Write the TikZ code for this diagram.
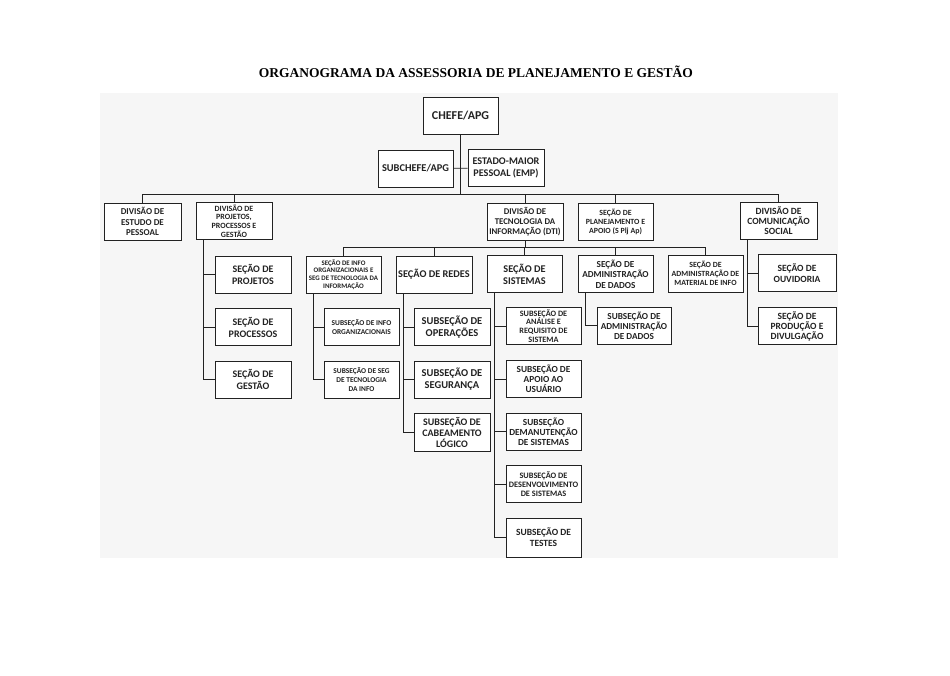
\documentclass[tikz,border=0pt]{standalone}
\usepackage{fontspec}
\setmainfont{Carlito}
\newfontfamily\titlefont{Liberation Serif}
\usetikzlibrary{positioning,calc}
\definecolor{ink}{HTML}{222222}
\definecolor{scan}{HTML}{F6F6F6}
\tikzset{unit/.style 2 args={draw=ink,line width=1pt,fill=white,text=ink,align=center,
    minimum width=76pt,minimum height=37pt,inner sep=.5pt,font=\bfseries\fontsize{#1}{#2}\selectfont},
  link/.style={draw=ink,line width=.9pt}}

\begin{document}
\begin{tikzpicture}[x=1pt,y=-1pt]
\useasboundingbox (0,0) rectangle (950,675);
\fill[scan] (100,93) rectangle (838,558);
\node[font=\titlefont\bfseries\fontsize{13.5}{16}\selectfont] (title) at (476,72) {ORGANOGRAMA DA ASSESSORIA DE PLANEJAMENTO E GESTÃO};

\node[unit={12}{14},minimum width=75pt] (chefe) at (460.5,115.5) {CHEFE/APG};
\node[unit={10.4}{12.5},minimum width=75pt] (subchefe) at (415.5,168.5) {SUBCHEFE/APG};
\node[unit={10.2}{12.5}] (emp) at (506,168) {ESTADO-MAIOR\\PESSOAL (EMP)};

\node[unit={9}{10.5},minimum width=77pt] (dep) at (142.5,221.5) {DIVISÃO DE\\ESTUDO DE\\PESSOAL};
\node[unit={8}{8.7}] (dpp) at (234,221) {DIVISÃO DE\\PROJETOS,\\PROCESSOS E\\GESTÃO};
\node[unit={8.8}{10}] (dti) at (525,221.5) {DIVISÃO DE\\TECNOLOGIA DA\\INFORMAÇÃO (DTI)};
\node[unit={7.9}{9},minimum width=75pt] (spa) at (615.5,221.5) {SEÇÃO DE\\PLANEJAMENTO E\\APOIO (S Plj Ap)};
\node[unit={9.5}{10},minimum width=77pt] (dcs) at (778.5,220.5) {DIVISÃO DE\\COMUNICAÇÃO\\SOCIAL};

\node[unit={10}{12}] (projetos) at (253,274.5) {SEÇÃO DE\\PROJETOS};
\node[unit={10}{12}] (processos) at (253,327) {SEÇÃO DE\\PROCESSOS};
\node[unit={10}{12}] (gestao) at (253,379.5) {SEÇÃO DE\\GESTÃO};

\node[unit={6.9}{7.8},minimum width=75pt] (sinfo) at (343.5,274.5) {SEÇÃO DE INFO\\ORGANIZACIONAIS E\\SEG DE TECNOLOGIA DA\\INFORMAÇÃO};
\node[unit={10.3}{12}] (redes) at (434,274.5) {SEÇÃO DE REDES};
\node[unit={10.3}{12},minimum width=75pt] (sist) at (524.5,274) {SEÇÃO DE\\SISTEMAS};
\node[unit={9.2}{10.3},minimum width=75pt] (sad) at (615.5,274) {SEÇÃO DE\\ADMINISTRAÇÃO\\DE DADOS};
\node[unit={7.9}{8.8},minimum width=75pt] (samat) at (705.5,273.5) {SEÇÃO DE\\ADMINISTRAÇÃO DE\\MATERIAL DE INFO};

\node[unit={9.5}{11},minimum width=78pt] (ouv) at (797,273) {SEÇÃO DE\\OUVIDORIA};
\node[unit={9.5}{10},minimum width=78pt] (prod) at (797,326) {SEÇÃO DE\\PRODUÇÃO E\\DIVULGAÇÃO};

\node[unit={7.4}{9},minimum width=75pt] (ssinfo) at (361.5,327) {SUBSEÇÃO DE INFO\\ORGANIZACIONAIS};
\node[unit={7.4}{9},minimum width=75pt] (ssseg) at (361.5,379.5) {SUBSEÇÃO DE SEG\\DE TECNOLOGIA\\DA INFO};

\node[unit={10.5}{12}] (ssop) at (452,327) {SUBSEÇÃO DE\\OPERAÇÕES};
\node[unit={10.5}{12}] (sssegur) at (452,379.5) {SUBSEÇÃO DE\\SEGURANÇA};
\node[unit={10}{11},minimum height=38pt] (sscab) at (452,432) {SUBSEÇÃO DE\\CABEAMENTO\\LÓGICO};

\node[unit={8.2}{8.7},minimum width=75pt] (ssana) at (543.5,326) {SUBSEÇÃO DE\\ANÁLISE E\\REQUISITO DE\\SISTEMA};
\node[unit={9.3}{10},minimum width=75pt] (ssapoio) at (543.5,379) {SUBSEÇÃO DE\\APOIO AO\\USUÁRIO};
\node[unit={9.3}{10},minimum width=75pt] (ssmanut) at (543.5,431.5) {SUBSEÇÃO\\DEMANUTENÇÃO\\DE SISTEMAS};
\node[unit={8.3}{9.3},minimum width=75pt] (ssdes) at (543.5,484) {SUBSEÇÃO DE\\DESENVOLVIMENTO\\DE SISTEMAS};
\node[unit={9.5}{11},minimum width=75pt,minimum height=39pt] (sstest) at (543.5,537.5) {SUBSEÇÃO DE\\TESTES};

\node[unit={9.2}{10},minimum width=74pt] (ssad) at (634,325.5) {SUBSEÇÃO DE\\ADMINISTRAÇÃO\\DE DADOS};

\coordinate (bus) at (460,194);
\coordinate (tibus) at (525,247);
\draw[link] (chefe.south) -- (chefe.south |- bus);
\draw[link] (subchefe) -- (emp);
\draw[link] (dep.north |- bus) -- (dcs.north |- bus);
\foreach \d in {dep,dpp,dti,spa,dcs} \draw[link] (\d.north) -- (\d.north |- bus);
\draw[link] (dti.south) -- (dti.south |- tibus);
\draw[link] (sinfo.north |- tibus) -- (samat.north |- tibus);
\foreach \s in {sinfo,redes,sist,sad,samat} \draw[link] (\s.north) -- (\s.north |- tibus);
\foreach \p/\c in {dpp/projetos,dpp/processos,dpp/gestao,sinfo/ssinfo,sinfo/ssseg,
    redes/ssop,redes/sssegur,redes/sscab,sist/ssana,sist/ssapoio,sist/ssmanut,sist/ssdes,sist/sstest,
    sad/ssad,dcs/ouv,dcs/prod}
  \draw[link] ([xshift=8pt]\p.south west) |- (\c.west);
\end{tikzpicture}
\end{document}
